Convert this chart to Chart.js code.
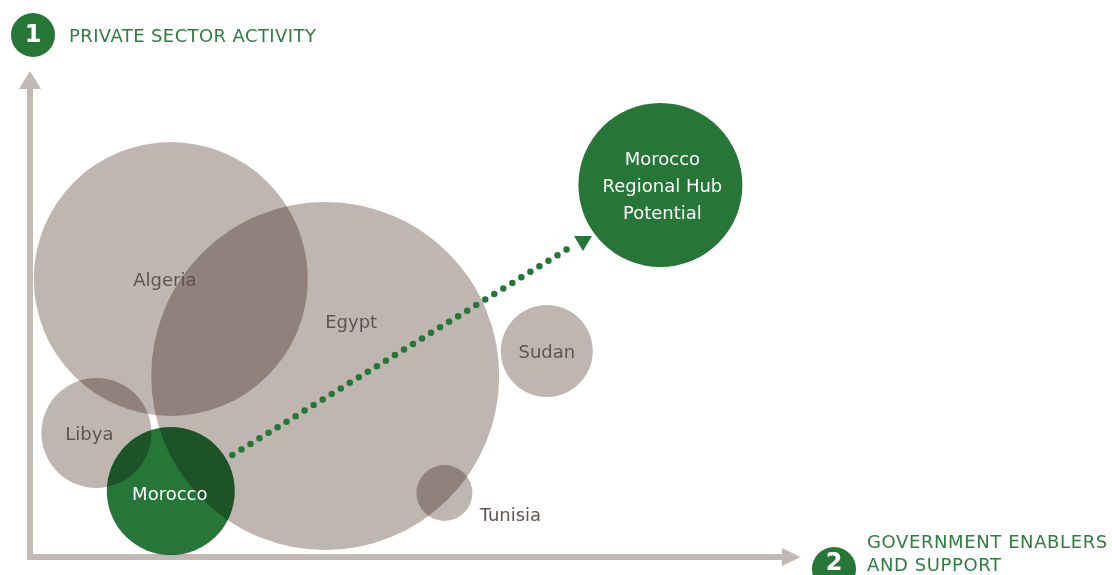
<!DOCTYPE html>
<html>
<head>
<meta charset="utf-8">
<script src="https://cdn.jsdelivr.net/npm/chart.js@4"></script>
<style>
  html, body { margin: 0; padding: 0; background: #fff; }
  #wrap { width: 1112px; height: 575px; position: relative; }
</style>
</head>
<body>
<div id="wrap"><canvas id="chart" width="1112" height="575"></canvas></div>
<script>
// government enablers (x), private sector activity (y), bubble size (r)
const countries = ['Algeria', 'Egypt', 'Libya', 'Sudan', 'Tunisia'];
const enablers  = [1.76, 3.69, 0.83, 6.46, 5.18];
const activity  = [5.56, 3.62, 2.48, 4.12, 1.28];
const sizes     = [137, 174, 55, 46, 28];

const morocco    = { label: 'Morocco', x: 1.76, y: 1.32, r: 64 };
const hub        = { label: ['Morocco', 'Regional Hub', 'Potential'], x: 7.88, y: 7.44, r: 82 };
const pathPoints = [{ x: 2.53, y: 2.04 }, { x: 6.80, y: 6.24 }];

const axisMax = { x: 9.41, y: 9.38 };

const GREEN = '#257637';
const GREEN_TEXT = '#2e7d3f';
const GREY = '#c0b6b1';
const AXIS = '#c2b9b4';
const LABEL = '#5f5450';
const FONT = '"DejaVu Sans", "Noto Sans", sans-serif';

// label nudges (px) so the text sits where the original puts it
const labelShift = {
  Algeria: [-6, 2], Egypt: [26, -53], Libya: [-7, 2], Sudan: [0, 2], Tunisia: [66, 23], Morocco: [-1, 4]
};

const multiplyPlugin = {
  id: 'multiply',
  beforeDatasetDraw(chart, args) {
    const ds = chart.data.datasets[args.index];
    if (ds.multiply) { chart.ctx.save(); chart.ctx.globalCompositeOperation = 'multiply'; }
  },
  afterDatasetDraw(chart, args) {
    const ds = chart.data.datasets[args.index];
    if (ds.multiply) chart.ctx.restore();
  }
};

function badge(ctx, cx, cy, num, ty) {
  ctx.fillStyle = GREEN;
  ctx.beginPath(); ctx.arc(cx, cy, 22, 0, Math.PI * 2); ctx.fill();
  ctx.fillStyle = '#fff';
  ctx.font = 'bold 24px ' + FONT;
  ctx.textAlign = 'center'; ctx.textBaseline = 'middle';
  ctx.fillText(num, cx, ty);
}

const axesPlugin = {
  id: 'axesArrows',
  beforeDatasetsDraw(chart) {
    const ctx = chart.ctx, xs = chart.scales.x, ys = chart.scales.y;
    const x0 = xs.getPixelForValue(0), y0 = ys.getPixelForValue(0);
    const xEnd = xs.getPixelForValue(axisMax.x), yEnd = ys.getPixelForValue(axisMax.y);
    ctx.save();
    ctx.strokeStyle = AXIS; ctx.fillStyle = AXIS; ctx.lineWidth = 6;
    ctx.beginPath();
    ctx.moveTo(x0, yEnd); ctx.lineTo(x0, y0 + 1);
    ctx.moveTo(x0 - 3, y0); ctx.lineTo(xEnd, y0);
    ctx.stroke();
    ctx.beginPath();
    ctx.moveTo(x0, yEnd - 17); ctx.lineTo(x0 + 11, yEnd + 1); ctx.lineTo(x0 - 11, yEnd + 1); ctx.closePath();
    ctx.fill();
    ctx.beginPath();
    ctx.moveTo(xEnd + 18, y0); ctx.lineTo(xEnd - 1, y0 - 9); ctx.lineTo(xEnd - 1, y0 + 9); ctx.closePath();
    ctx.fill();
    ctx.restore();
  },
  afterDraw(chart) {
    const ctx = chart.ctx;
    ctx.save();
    badge(ctx, 33, 35, '1', 36);
    badge(ctx, 834, 569, '2', 564);
    ctx.fillStyle = GREEN_TEXT;
    ctx.font = '18px ' + FONT;
    ctx.textAlign = 'left'; ctx.textBaseline = 'middle';
    ctx.letterSpacing = '0.4px';
    ctx.fillText('PRIVATE SECTOR ACTIVITY', 69, 37);
    ctx.letterSpacing = '0.6px';
    ctx.fillText('GOVERNMENT ENABLERS', 867, 543);
    ctx.fillText('AND SUPPORT', 867, 566);
    ctx.letterSpacing = '0px';

    // bubble labels
    ctx.textAlign = 'center';
    ctx.font = '18px ' + FONT;
    const xs = chart.scales.x, ys = chart.scales.y;
    countries.forEach((c, i) => {
      const s = labelShift[c];
      ctx.fillStyle = LABEL;
      ctx.fillText(c, xs.getPixelForValue(enablers[i]) + s[0], ys.getPixelForValue(activity[i]) + s[1]);
    });
    ctx.fillStyle = '#fff';
    const ms = labelShift.Morocco;
    ctx.fillText(morocco.label, xs.getPixelForValue(morocco.x) + ms[0], ys.getPixelForValue(morocco.y) + ms[1]);
    const hx = xs.getPixelForValue(hub.x) + 2, hy = ys.getPixelForValue(hub.y) + 2;
    hub.label.forEach((t, i) => ctx.fillText(t, hx, hy + (i - 1) * 27));

    // arrow head at the end of the dotted path
    const p = pathPoints[1];
    const ax = xs.getPixelForValue(p.x), ay = ys.getPixelForValue(p.y);
    ctx.fillStyle = GREEN;
    ctx.beginPath();
    ctx.moveTo(ax, ay - 9); ctx.lineTo(ax + 18, ay - 9); ctx.lineTo(ax + 9, ay + 6); ctx.closePath();
    ctx.fill();
    ctx.restore();
  }
};

new Chart(document.getElementById('chart'), {
  type: 'bubble',
  data: {
    datasets: [
      {
        type: 'line',
        data: pathPoints,
        borderColor: GREEN,
        borderWidth: 6.5,
        borderDash: [0, 10.6],
        borderCapStyle: 'round',
        pointRadius: 0,
        fill: false,
        clip: false
      },
      {
        data: [{ x: hub.x, y: hub.y, r: hub.r }],
        backgroundColor: GREEN,
        borderWidth: 0,
        clip: false
      },
      {
        data: [{ x: morocco.x, y: morocco.y, r: morocco.r }],
        backgroundColor: GREEN,
        borderWidth: 0,
        multiply: true,
        clip: false
      },
      {
        data: countries.map((c, i) => ({ x: enablers[i], y: activity[i], r: sizes[i] })),
        backgroundColor: GREY,
        borderWidth: 0,
        multiply: true,
        clip: false
      }
    ]
  },
  options: {
    responsive: false,
    animation: false,
    layout: { autoPadding: false, padding: { left: 30, right: 282, top: 57, bottom: 18 } },
    scales: {
      x: { type: 'linear', min: 0, max: 10, display: false },
      y: { type: 'linear', min: 0, max: 10, display: false }
    },
    plugins: { legend: { display: false }, tooltip: { enabled: false } },
    elements: { point: { hoverRadius: 0 } }
  },
  plugins: [multiplyPlugin, axesPlugin]
});
</script>
</body>
</html>
